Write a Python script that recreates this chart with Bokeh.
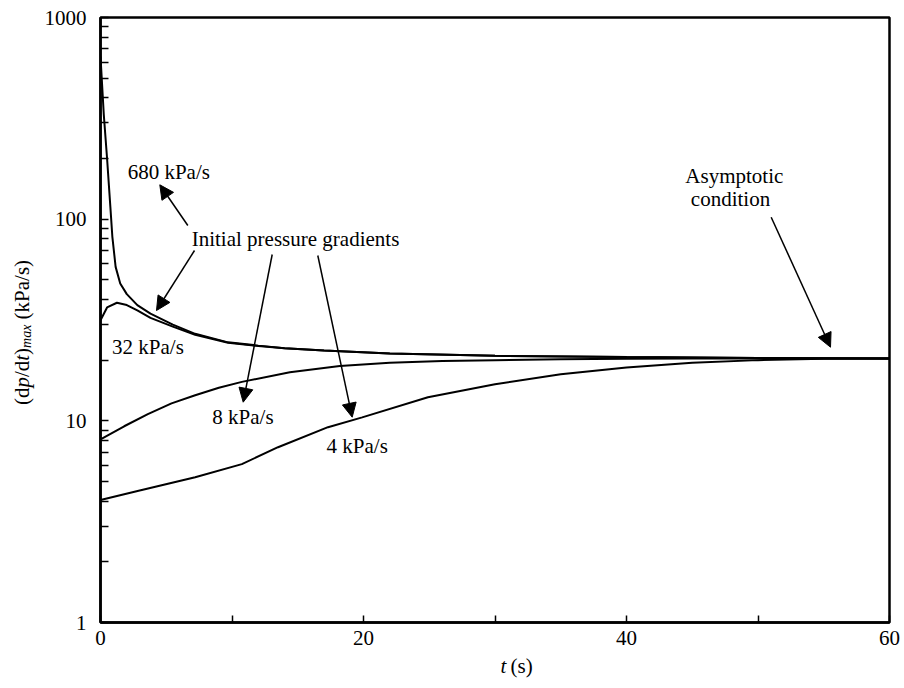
from bokeh.plotting import figure
from bokeh.models import Label, Arrow, NormalHead, FixedTicker, Range1d, BasicTickFormatter
from bokeh.layouts import row, column
from bokeh.embed import file_html
from bokeh.resources import INLINE
import math

# ---------------- data ----------------
t680 = [0, 0.25, 0.5, 0.75, 0.9, 1.15, 1.5, 2.0, 2.8, 3.8, 5.5, 7.2, 9.7, 12, 14, 17, 22, 30, 40, 50, 60]
v680 = [640, 330, 200, 115, 82, 58, 48, 42.5, 37.5, 34, 30, 27, 24.5, 23.6, 22.9, 22.3, 21.6, 21.0, 20.7, 20.5, 20.4]

t32 = [0, 0.5, 1.25, 2.0, 2.8, 3.8, 5.5, 7.2, 9.7, 12, 14, 17, 22, 30, 40, 50, 60]
v32 = [31.5, 36.5, 38.5, 37.5, 35.3, 32.4, 29.3, 26.7, 24.4, 23.5, 22.9, 22.3, 21.6, 21.0, 20.7, 20.5, 20.4]

t8 = [0, 1.8, 3.6, 5.4, 7.2, 9, 10.75, 14.4, 18.2, 22, 26, 30, 35, 40, 45, 50, 55, 60]
v8 = [8.1, 9.4, 10.8, 12.2, 13.4, 14.6, 15.6, 17.4, 18.7, 19.4, 19.8, 20.0, 20.2, 20.3, 20.35, 20.4, 20.4, 20.4]

t4 = [0, 2.9, 7.2, 10.75, 13.5, 17.3, 19.9, 24.9, 30, 35, 40, 45, 50, 55, 60]
v4 = [4.05, 4.5, 5.25, 6.1, 7.4, 9.3, 10.4, 13.1, 15.2, 17.0, 18.4, 19.4, 20.0, 20.3, 20.4]

x_ticks = [0, 10, 20, 30, 40, 50, 60]
x_tick_labels = ["0", "", "20", "", "40", "", "60"]
y_ticks = [1, 10, 100, 1000]
y_tick_labels = ["1", "10", "100", "1000"]
y_minor = [2, 3, 4, 5, 6, 7, 8, 9, 20, 30, 40, 50, 60, 70, 80, 90, 200, 300, 400, 500, 600, 700, 800, 900]

# ---------------- layout helpers (overall page pixels) ----------------
W, H = 904, 688
YW = 40                      # strip on the left holding the rotated y title
XH = 34                      # strip at the bottom holding the x title
L, R, T, B = 100, 15, 17, 66  # frame margins on the whole page
FW = W - L - R
FH = H - T - B
PXT = FW / 60.0
PXD = FH / 3.0


def tx(px):
    return (px - L) / PXT


def vy(py):
    return 10 ** (3 - (py - T) / PXD)


FONT = "Liberation Serif"
FS = 21

p = figure(width=W - YW, height=H - XH, y_axis_type="log",
           x_range=Range1d(0, 60), y_range=Range1d(1, 1000),
           output_backend="svg", toolbar_location=None,
           min_border_left=L - YW, min_border_right=R, min_border_top=T, min_border_bottom=B - XH)
p.grid.visible = False
p.background_fill_color = "white"
p.border_fill_color = "white"
p.outline_line_color = "black"
p.outline_line_width = 2.5

for ax in (p.xaxis[0], p.yaxis[0]):
    ax.axis_line_width = 2.5
    ax.axis_line_color = "black"
    ax.major_tick_line_color = "black"
    ax.minor_tick_line_color = "black"
    ax.major_tick_line_width = 1.5
    ax.minor_tick_line_width = 1.5
    ax.major_tick_out = 0
    ax.minor_tick_out = 0
    ax.major_label_text_font = FONT
    ax.major_label_text_font_size = f"{FS}px"
    ax.major_label_text_color = "black"

p.xaxis.ticker = FixedTicker(ticks=x_ticks, minor_ticks=[])
p.xaxis.major_label_overrides = {k: v for k, v in zip(x_ticks, x_tick_labels)}
p.xaxis.major_tick_in = 7
p.xaxis.major_label_standoff = 8

p.yaxis.ticker = FixedTicker(ticks=y_ticks, minor_ticks=y_minor)
p.yaxis.formatter = BasicTickFormatter()
p.yaxis.major_label_overrides = {k: v for k, v in zip(y_ticks, y_tick_labels)}
p.yaxis.major_tick_in = 8
p.yaxis.minor_tick_in = 8
p.yaxis.major_label_standoff = 14

# ---------------- curves ----------------
for tt, vv in ((t680, v680), (t32, v32), (t8, v8), (t4, v4)):
    p.line(tt, vv, line_color="black", line_width=2)


# ---------------- annotations ----------------
def text(s, px, py, style="normal", size=FS, align="center", baseline="middle", angle=0.0, fig=None):
    if fig is None:
        x, y, f = tx(px), vy(py), p
    else:
        x, y, f = px, py, fig
    f.add_layout(Label(x=x, y=y, text=s, text_font=FONT, text_font_size=f"{size}px",
                       text_font_style=style, text_align=align, text_baseline=baseline,
                       text_color="black", angle=angle))


def arrow(x0, y0, x1, y1):
    p.add_layout(Arrow(end=NormalHead(size=14, fill_color="black", line_color="black"),
                       x_start=tx(x0), y_start=vy(y0), x_end=tx(x1), y_end=vy(y1),
                       line_color="black", line_width=1.5))


text("680 kPa/s", 168.3, 171.7)
text("Initial pressure gradients", 295, 238.3)
text("32 kPa/s", 147.5, 346.7)
text("8 kPa/s", 242.5, 416.7)
text("4 kPa/s", 356.7, 445)
text("Asymptotic", 733.8, 175)
text("condition", 730, 198.3)

arrow(187.3, 225, 159.3, 184.3)
arrow(194, 250, 156, 310)
arrow(271.7, 254, 242.7, 401.7)
arrow(317.3, 255, 351.7, 416.7)
arrow(770.7, 216.7, 830, 346.7)


def strip(w, h, x0, x1, y0, y1):
    f = figure(width=w, height=h, x_range=Range1d(x0, x1), y_range=Range1d(y0, y1),
               x_axis_type=None, y_axis_type=None, output_backend="svg", toolbar_location=None,
               min_border=0)
    f.grid.visible = False
    f.outline_line_color = None
    f.background_fill_color = "white"
    f.border_fill_color = "white"
    return f


# left strip: page x 0..YW, page y 0..H (y downwards)
yfig = strip(YW, H, 0, YW, H, 0)
# bottom strip: page x YW..W, page y H-XH..H
xfig = strip(W - YW, XH, YW, W, H, H - XH)

SP = 0.25 * FS  # width of a space

# x-axis title: t (s)
xs = 478.0
text("t", xs, 665, style="italic", align="left", fig=xfig)
text("(s)", xs + 0.278 * FS + SP, 665, align="left", fig=xfig)

# y-axis title: (dp/dt)max (kPa/s), rotated; (text, style, size, em width, gap before)
ang = math.pi / 2
SUB = 14
pieces = [("(d", "normal", FS, 0.833, 0), ("p", "italic", FS, 0.5, 0), ("/d", "normal", FS, 0.778, 0),
          ("t", "italic", FS, 0.278, 0), (")", "normal", FS, 0.333, 0), ("max", "italic", SUB, 1.666, 0),
          ("(kPa/s)", "normal", FS, 2.833, SP)]
total = sum(w * s + g for _, _, s, w, g in pieces)
py = 332 + total / 2
xc = 21
for s, st, sz, w, g in pieces:
    py -= g
    xoff = 5 if sz == SUB else 0
    text(s, xc + xoff, py, style=st, size=sz, align="left", angle=ang, fig=yfig)
    py -= w * sz

layout = row(yfig, column(p, xfig, spacing=0), spacing=0)
open("out.html", "w").write(file_html(layout, INLINE))
